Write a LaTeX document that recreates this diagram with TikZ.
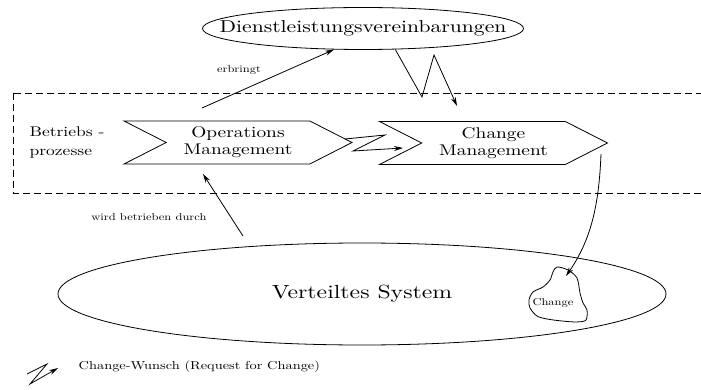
\documentclass[tikz,border=0pt]{standalone}
\usepackage{fontspec}
\setmainfont{lmroman10-regular.otf}[FakeStretch=1.25]
\usetikzlibrary{shapes.geometric,shapes.symbols,arrows.meta}
\begin{document}
\begin{tikzpicture}[x=1pt,y=-1pt,line width=.8pt,
  >={Stealth[length=9pt,width=5pt]},
  oval/.style={draw,ellipse,inner sep=0pt},
  chev/.style={draw,signal,signal from=west,signal to=east,signal pointer angle=54,
     minimum width=228,minimum height=43,inner sep=0pt,align=center,
     font=\fontsize{15.5}{17}\selectfont},
  lbl/.style={font=\fontsize{10}{12}\selectfont}]
\useasboundingbox (0,0) rectangle (701,390);
%\draw[step=50,gray,very thin] (0,0) grid (701,390); %background grid

\draw[dash pattern=on 7pt off 4pt] (13,93) rectangle (720,193); % Betriebsprozesse

\node[oval,minimum width=321,minimum height=42] (dl) at (363,28.5) {};
\node[font=\fontsize{17.3}{20}\selectfont] (dlt) at (dl.center) {Dienstleistungsvereinbarungen};
\node[oval,minimum width=608,minimum height=102,font=\fontsize{19}{24}\selectfont] (vs) at (362,294) {Verteiltes System};

\node[align=left,font=\fontsize{14}{19}\selectfont] (bp) at (67,143) {Betriebs -\\prozesse};
\node[chev] (om) at (238,142.5) {Operations\\Management};
\node[chev] (cm) at (493.5,143) {Change\\Management};

\node[lbl] (erb) at (239,70) {erbringt};
\node[lbl] (wbd) at (149,217) {wird betrieben durch};

% Change im System
\node[lbl] (chg) at (553,303) {Change};
\draw plot[smooth cycle,tension=.5] coordinates {(557,267) (568,270) (577,278) (580,293) (583,303)
  (587,310) (586,320) (577,322) (562,321) (547,319) (537,316) (530,308) (529,300) (533,292)
  (543,287) (550,280) (553,272)};

\coordinate (erbA) at (202,108);
\coordinate (wbdA) at (243,236);
\coordinate (wbdB) at (203,174);
\coordinate (rfcA) at (345,139);
\coordinate (rfcB) at (403,148);
\coordinate (dlB) at (457,106);
\coordinate (cmA) at (601,154);
\coordinate (chgB) at (566,276);

\draw[->] (erbA) -- (dl.-144); % erbringt
\draw[->] (wbdA) -- (wbdB); % wird betrieben durch
\draw[->] (dl.-33) -- (422,97) -- (434,55) -- (dlB); % RfC
\draw[->] (rfcA) -- (385,135) -- (353,151) -- (rfcB); % RfC
\draw[->] (cmA) .. controls (599,205) and (591,240) .. (chgB);

% Legende
\coordinate (lgA) at (27,374);
\coordinate (lgB) at (58,368);
\draw[->] (lgA) -- (47,364) -- (30,384) -- (lgB);
\node[anchor=west,font=\fontsize{11.5}{13}\selectfont] (lg) at (75,367) {Change-Wunsch (Request for Change)};

\end{tikzpicture}
\end{document}
